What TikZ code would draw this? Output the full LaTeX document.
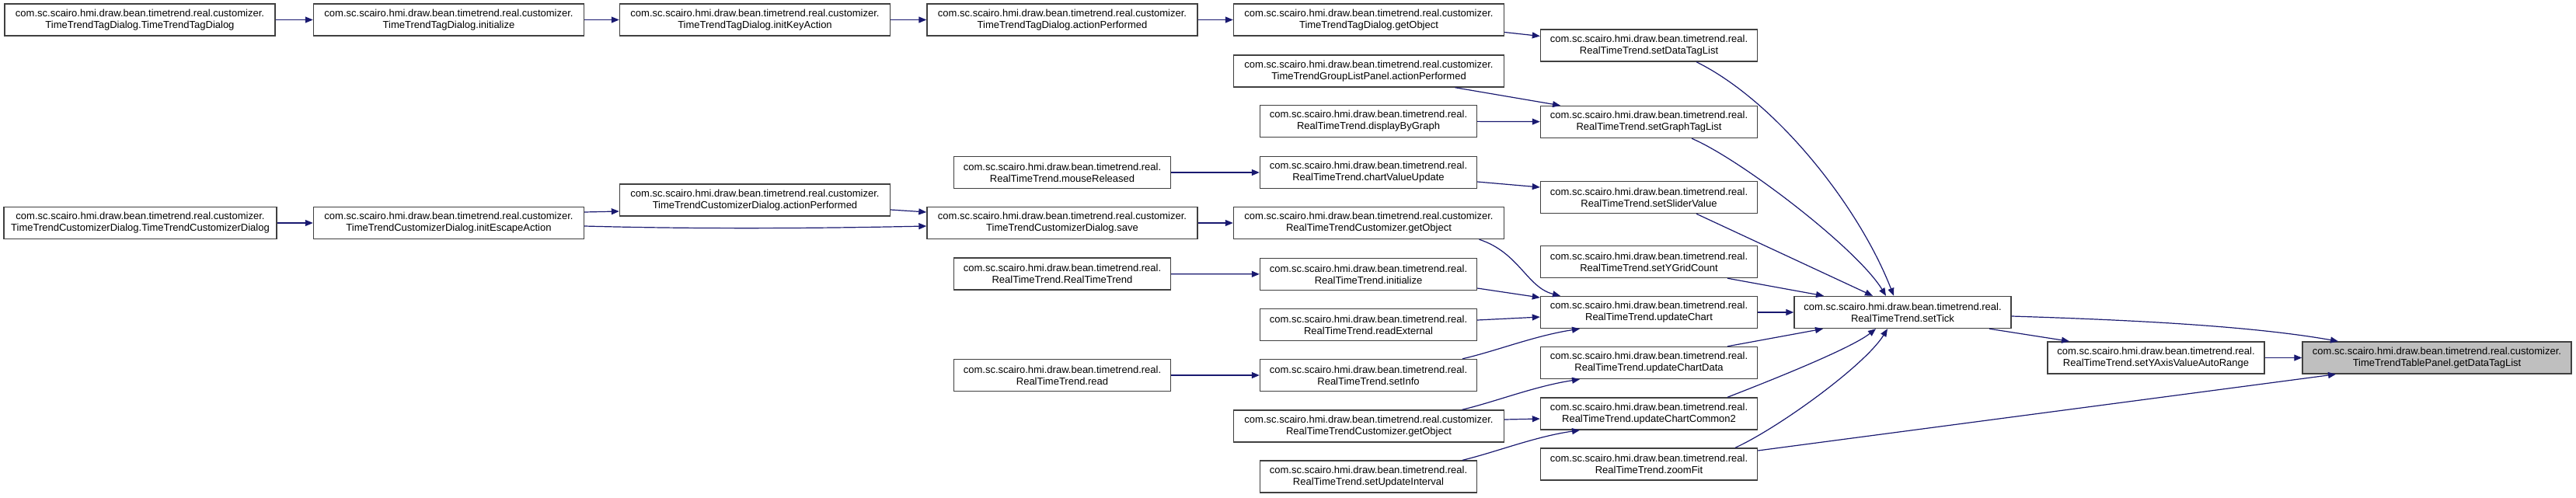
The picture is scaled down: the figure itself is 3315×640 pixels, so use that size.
\documentclass[tikz,border=0pt]{standalone}
\usepackage{fontspec}
\setmainfont{Liberation Sans}
\usetikzlibrary{arrows.meta}
\definecolor{edgeblue}{RGB}{25,25,112}
\definecolor{boxline}{RGB}{64,64,64}
\definecolor{hilite}{RGB}{191,191,191}
\begin{document}
\begin{tikzpicture}[x=1pt,y=-1pt,
  fn/.style={draw=boxline,line width=1.4pt,fill=white,inner sep=0pt,minimum height=41pt,align=center,font=\fontsize{13}{15}\selectfont},
  wc/.style={fn,minimum width=348pt},
  wr/.style={fn,minimum width=279pt},
  cur/.style={fn,minimum width=346pt,fill=hilite},
  call/.style={draw=edgeblue,line width=1.2pt,-{Triangle[length=10pt,width=8pt]}}]
\useasboundingbox (0,0) rectangle (3315,640);
\def\pc{com.sc.scairo.hmi.draw.bean.timetrend.real.customizer.}
\def\pr{com.sc.scairo.hmi.draw.bean.timetrend.real.}
\node[wc] (A1) at (180,25.5) {\pc\\TimeTrendTagDialog.TimeTrendTagDialog};
\node[wc] (B1) at (577.5,25.5) {\pc\\TimeTrendTagDialog.initialize};
\node[wc] (C1) at (971.5,25.5) {\pc\\TimeTrendTagDialog.initKeyAction};
\node[wc] (D1) at (1367,25.5) {\pc\\TimeTrendTagDialog.actionPerformed};
\node[wc] (E1) at (1761.5,25.5) {\pc\\TimeTrendTagDialog.getObject};
\node[wr] (F1) at (2122,58.5) {\pr\\RealTimeTrend.setDataTagList};
\node[wc] (E2) at (1761.5,91.5) {\pc\\TimeTrendGroupListPanel.actionPerformed};
\node[wr] (E3) at (1761,156) {\pr\\RealTimeTrend.displayByGraph};
\node[wr] (F2) at (2122,157) {\pr\\RealTimeTrend.setGraphTagList};
\node[wr] (D3) at (1367,222) {\pr\\RealTimeTrend.mouseReleased};
\node[wr] (E4) at (1761,222) {\pr\\RealTimeTrend.chartValueUpdate};
\node[wr] (F3) at (2122,254) {\pr\\RealTimeTrend.setSliderValue};
\node[wc] (C2) at (971.5,257.5) {\pc\\TimeTrendCustomizerDialog.actionPerformed};
\node[fn,minimum width=351pt] (A2) at (180.5,287) {\pc\\TimeTrendCustomizerDialog.TimeTrendCustomizerDialog};
\node[wc] (B2) at (577.5,287) {\pc\\TimeTrendCustomizerDialog.initEscapeAction};
\node[wc] (D2) at (1367,287) {\pc\\TimeTrendCustomizerDialog.save};
\node[wc] (E5) at (1761.5,287) {\pc\\RealTimeTrendCustomizer.getObject};
\node[wr] (F4) at (2122,337) {\pr\\RealTimeTrend.setYGridCount};
\node[wr] (D4) at (1367,352.5) {\pr\\RealTimeTrend.RealTimeTrend};
\node[wr] (E6) at (1761,353) {\pr\\RealTimeTrend.initialize};
\node[wr] (F5) at (2122,402) {\pr\\RealTimeTrend.updateChart};
\node[wr] (G) at (2448.5,402) {\pr\\RealTimeTrend.setTick};
\node[wr] (E7) at (1761,418) {\pr\\RealTimeTrend.readExternal};
\node[wr] (H) at (2774.5,460.5) {\pr\\RealTimeTrend.setYAxisValueAutoRange};
\node[cur] (I) at (3136,460.5) {\pc\\TimeTrendTablePanel.getDataTagList};
\node[wr] (F6) at (2122,467) {\pr\\RealTimeTrend.updateChartData};
\node[wr] (D5) at (1367,483) {\pr\\RealTimeTrend.read};
\node[wr] (E8) at (1761,483) {\pr\\RealTimeTrend.setInfo};
\node[wr] (F7) at (2122,532.5) {\pr\\RealTimeTrend.updateChartCommon2};
\node[wc] (E9) at (1761.5,548.5) {\pc\\RealTimeTrendCustomizer.getObject};
\node[wr] (F8) at (2122,597.5) {\pr\\RealTimeTrend.zoomFit};
\node[wr] (E10) at (1761,613.5) {\pr\\RealTimeTrend.setUpdateInterval};
% top row
\draw[call] (A1) -- (B1);
\draw[call] (B1) -- (C1);
\draw[call] (C1) -- (D1);
\draw[call] (D1) -- (E1);
\draw[call] ([yshift=-16pt]E1.east) -- ([yshift=12pt]F1.west);
\draw[call] ([xshift=111pt]E2.south) -- ([xshift=-114pt]F2.north);
\draw[call] (E3) -- (F2);
% customizer dialog chain
\draw[call] (A2) -- (B2);
\draw[call] ([yshift=14pt]B2.east) -- ([yshift=-14.5pt]C2.west);
\draw[call] ([yshift=-4pt]B2.east) .. controls (900,295) and (1050,294) .. ([yshift=-4pt]D2.west);
\draw[call] ([yshift=-12.5pt]C2.east) -- ([yshift=14pt]D2.west);
% D -> E
\draw[call] (D3) -- (E4);
\draw[call] (D2) -- (E5);
\draw[call] (D4) -- (E6);
\draw[call] (D5) -- (E8);
% E -> F
\draw[call] ([yshift=-12pt]E4.east) -- ([yshift=13pt]F3.west);
\draw[call] ([xshift=142pt]E5.south) .. controls (1955,325) and (1965,370) .. ([xshift=-114pt]F5.north);
\draw[call] ([yshift=-18pt]E6.east) -- ([yshift=19pt]F5.west);
\draw[call] ([yshift=6pt]E7.east) -- ([yshift=-6pt]F5.west);
\draw[call] ([xshift=121pt]E8.north) .. controls (1925,452) and (1975,432) .. ([xshift=-89pt]F5.south);
\draw[call] ([xshift=120pt]E9.north) .. controls (1925,517) and (1975,497) .. ([xshift=-89pt]F6.south);
\draw[call] ([yshift=8.5pt]E9.east) -- ([yshift=-6.5pt]F7.west);
\draw[call] ([xshift=121pt]E10.north) .. controls (1925,582) and (1975,562) .. ([xshift=-89pt]F7.south);
% F -> setTick
\draw[call] ([xshift=61pt]F1.south) .. controls (2285,130) and (2392,265) .. ([xshift=-11.5pt]G.north);
\draw[call] ([xshift=55pt]F2.south) .. controls (2240,205) and (2390,320) .. ([xshift=-21.5pt]G.north);
\draw[call] ([xshift=61pt]F3.south) -- ([xshift=-38.5pt]G.north);
\draw[call] ([xshift=101pt]F4.south) -- ([xshift=-101.5pt]G.north);
\draw[call] (F5) -- (G);
\draw[call] ([xshift=101pt]F6.north) -- ([xshift=-102.5pt]G.south);
\draw[call] ([xshift=101pt]F7.north) .. controls (2265,495) and (2380,450) .. ([xshift=-34.5pt]G.south);
\draw[call] ([xshift=111pt]F8.north) .. controls (2290,550) and (2400,470) .. ([xshift=-19.5pt]G.south);
% to getDataTagList
\draw[call] ([yshift=17.5pt]F8.east) -- ([xshift=-130pt]I.south);
\draw[call] ([xshift=111.5pt]G.south) -- ([xshift=-111.5pt]H.north);
\draw[call] ([yshift=-5pt]G.east) .. controls (2750,412) and (2900,420) .. ([xshift=-127pt]I.north);
\draw[call] (H) -- (I);
\end{tikzpicture}
\end{document}
